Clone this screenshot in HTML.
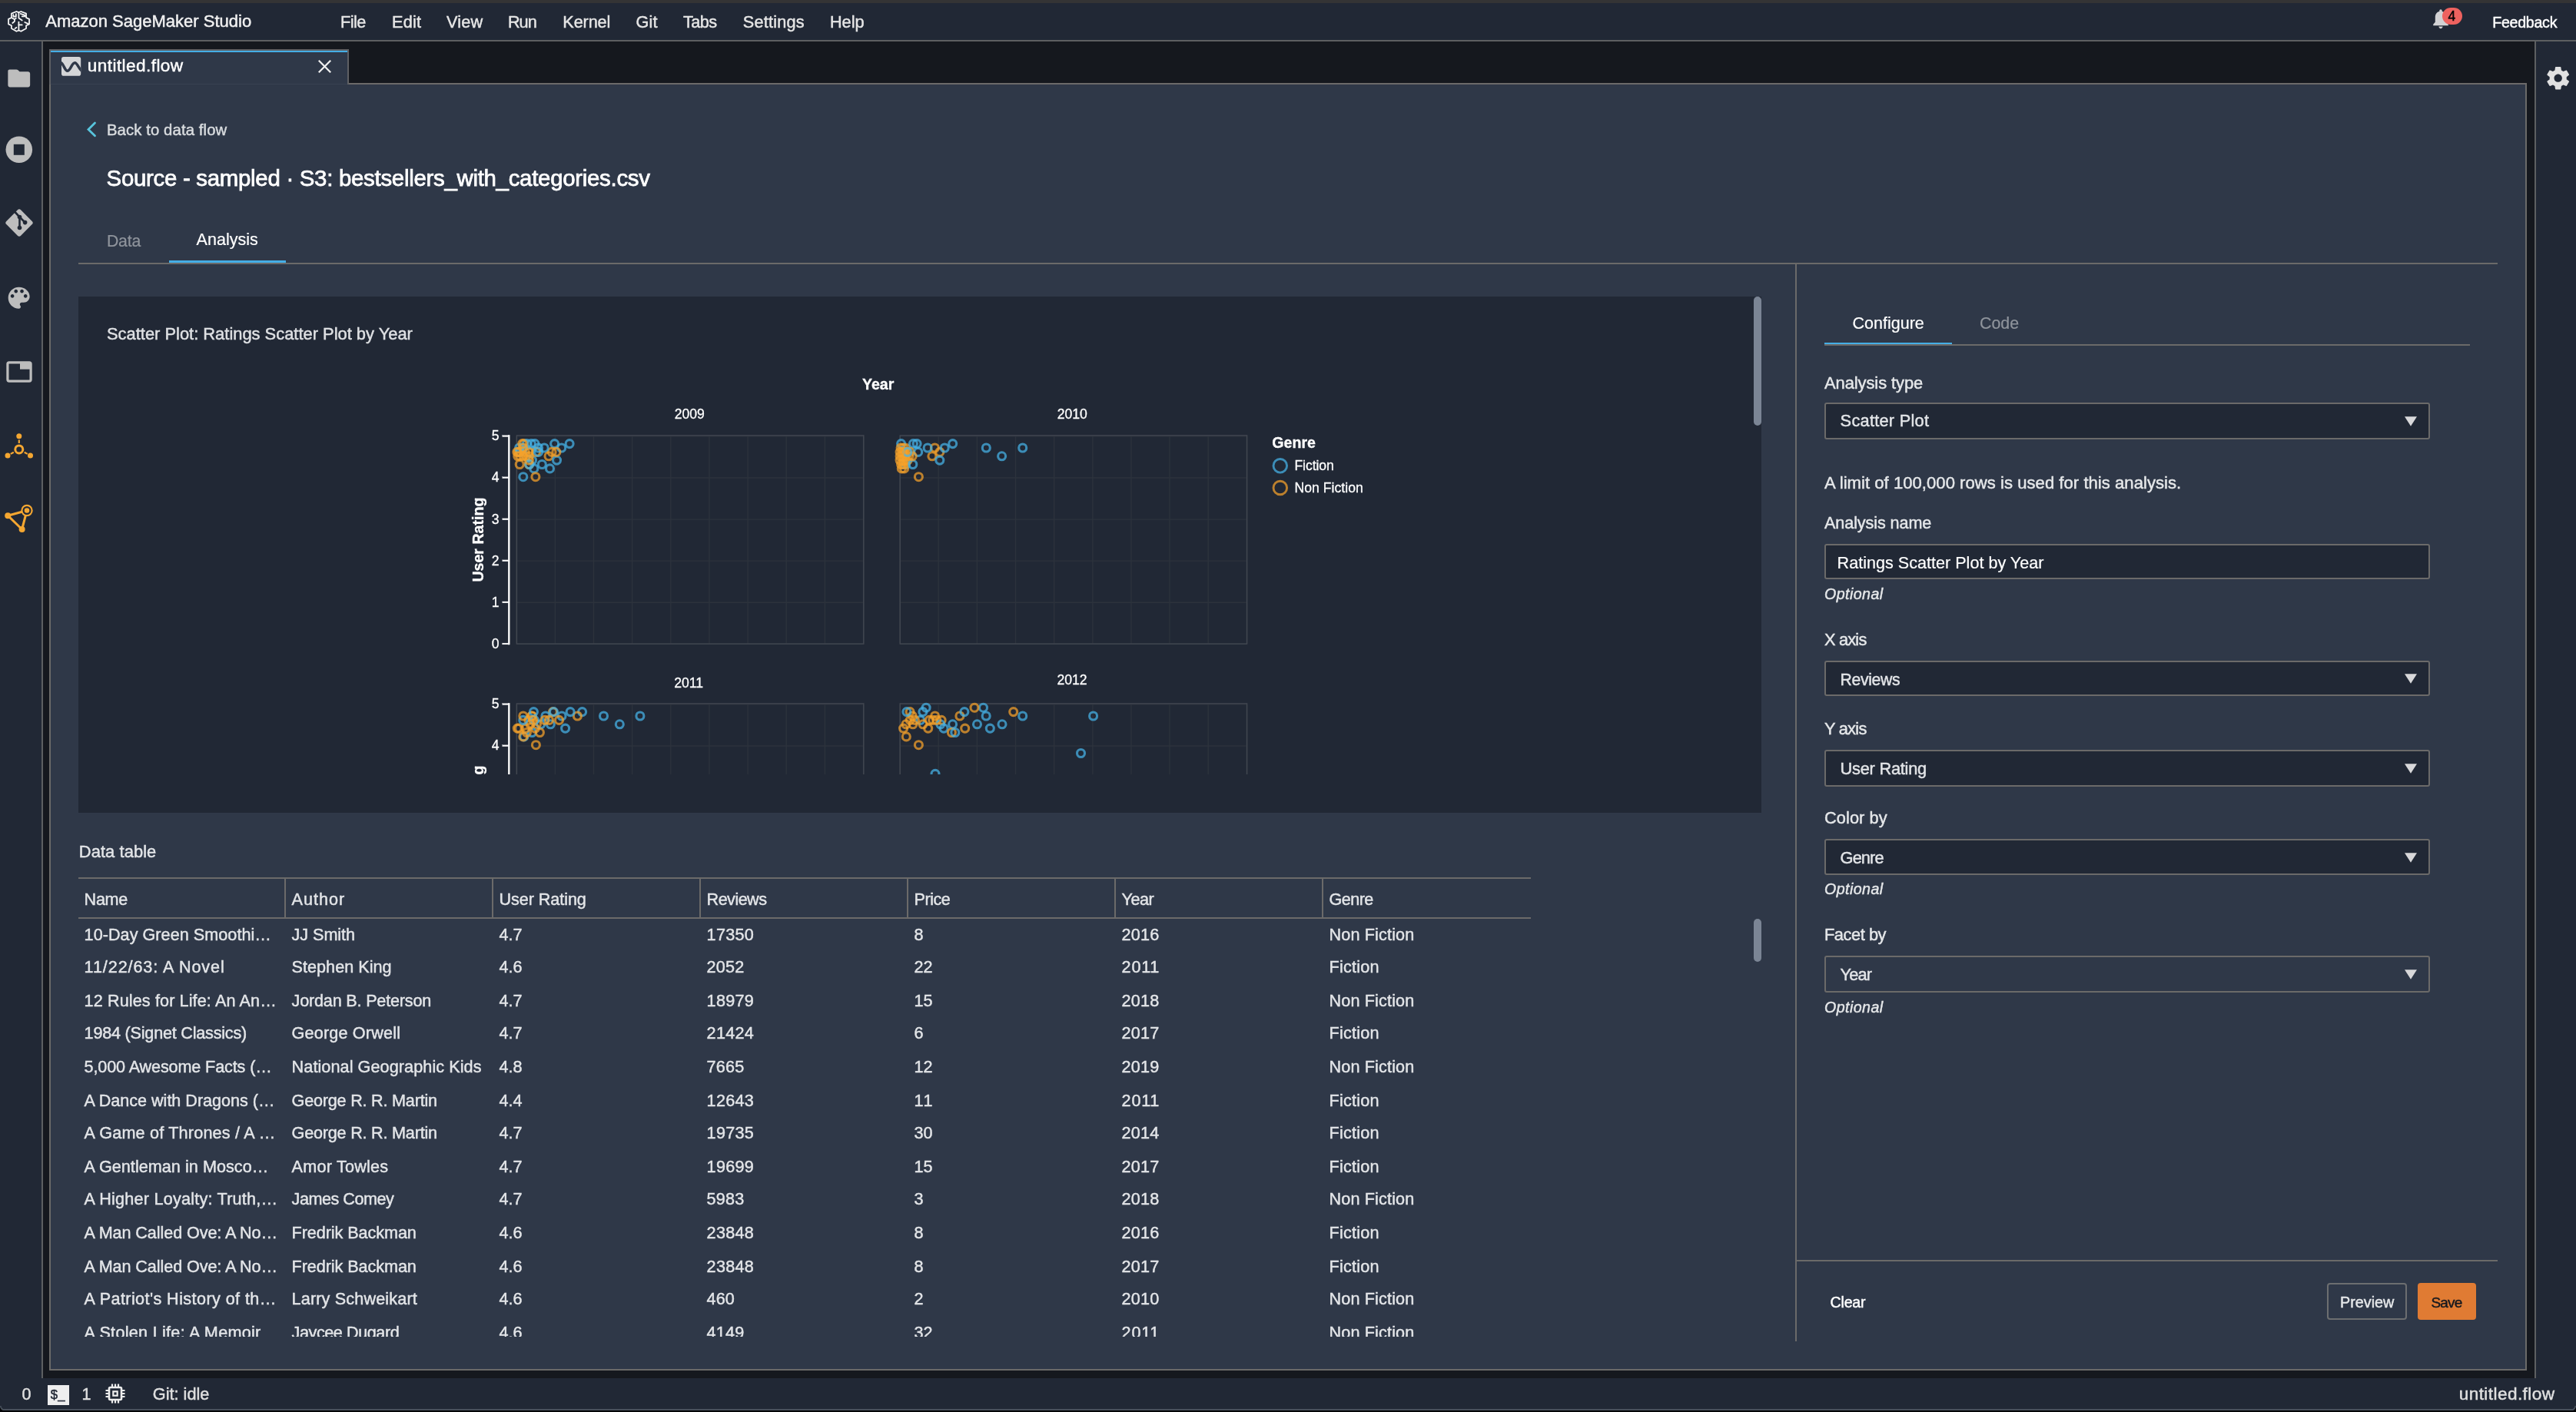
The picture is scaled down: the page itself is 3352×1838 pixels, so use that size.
<!DOCTYPE html>
<html><head><meta charset="utf-8"><title>Amazon SageMaker Studio</title>
<style>
html,body{margin:0;padding:0;}
body{width:3352px;height:1838px;overflow:hidden;background:#15181e;font-family:"Liberation Sans",sans-serif;position:relative;}
.t{position:absolute;white-space:nowrap;line-height:1;-webkit-text-stroke:0.45px;}
.r{position:absolute;}
svg{position:absolute;overflow:visible;}
#root{position:absolute;left:0;top:0;width:3352px;height:1838px;will-change:transform;}
</style></head><body><div id="root">
<div class="r" style="left:0.0px;top:0.0px;width:3352.0px;height:3.6px;background:#343435;"></div>
<div class="r" style="left:0.0px;top:3.6px;width:3352.0px;height:48.4px;background:#212835;"></div>
<div class="r" style="left:0.0px;top:52.0px;width:3352.0px;height:2.0px;background:#5d5f61;"></div>
<div class="r" style="left:0.0px;top:54.0px;width:54.0px;height:1740.0px;background:#212835;"></div>
<div class="r" style="left:54.0px;top:54.0px;width:2.0px;height:1740.0px;background:#5d5f61;"></div>
<div class="r" style="left:3300.0px;top:54.0px;width:52.0px;height:1740.0px;background:#212835;"></div>
<div class="r" style="left:3298.0px;top:54.0px;width:2.0px;height:1740.0px;background:#5d5f61;"></div>
<div class="r" style="left:0.0px;top:1794.0px;width:3352.0px;height:44.0px;background:#212835;"></div>
<div class="r" style="left:0.0px;top:1834.3px;width:3352.0px;height:1.7px;background:#48505b;"></div>
<div class="r" style="left:0.0px;top:1836.0px;width:3352.0px;height:2.0px;background:#050608;"></div>
<svg style="left:0;top:1830px" width="6" height="8" viewBox="0 0 6 8"><path d="M0 0 V8 H6 V6 H5.4 A5.4 5.4 0 0 1 0 0.600 Z" fill="#050608"/><path d="M0.800 0 A5 5 0 0 0 5.800 5.100" fill="none" stroke="#48505b" stroke-width="1.600"/></svg>
<svg style="left:3346px;top:1830px" width="6" height="8" viewBox="0 0 6 8"><path d="M6 0 V8 H0 V6 H0.600 A5.400 5.400 0 0 0 6 0.600 Z" fill="#050608"/><path d="M5.200 0 A5 5 0 0 1 0.200 5.100" fill="none" stroke="#48505b" stroke-width="1.600"/></svg>
<div class="t" style="left:59.3px;top:16.7px;font-size:22px;color:#f1f1f1;">Amazon SageMaker Studio</div>
<div class="t" style="left:442.9px;top:17.8px;font-size:21.7px;color:#e6e6e6;letter-spacing:-0.489px;">File</div>
<div class="t" style="left:510.0px;top:17.8px;font-size:21.7px;color:#e6e6e6;letter-spacing:0.235px;">Edit</div>
<div class="t" style="left:581.0px;top:17.8px;font-size:21.7px;color:#e6e6e6;letter-spacing:0.218px;">View</div>
<div class="t" style="left:660.9px;top:17.8px;font-size:21.7px;color:#e6e6e6;letter-spacing:-0.955px;">Run</div>
<div class="t" style="left:732.3px;top:17.8px;font-size:21.7px;color:#e6e6e6;letter-spacing:-0.126px;">Kernel</div>
<div class="t" style="left:827.6px;top:17.8px;font-size:21.7px;color:#e6e6e6;letter-spacing:0.136px;">Git</div>
<div class="t" style="left:889.0px;top:17.8px;font-size:21.7px;color:#e6e6e6;letter-spacing:-0.613px;">Tabs</div>
<div class="t" style="left:966.8px;top:17.8px;font-size:21.7px;color:#e6e6e6;letter-spacing:0.199px;">Settings</div>
<div class="t" style="left:1080.0px;top:17.8px;font-size:21.7px;color:#e6e6e6;letter-spacing:-0.044px;">Help</div>
<div class="t" style="left:3243.2px;top:20.3px;font-size:19.6px;color:#ffffff;letter-spacing:-0.254px;">Feedback</div>
<svg style="left:4px;top:8px" width="42" height="40" viewBox="0 0 42 40" fill="none" stroke="#f6f6f6" stroke-width="1.85" stroke-linejoin="round" stroke-linecap="round"><g transform="translate(20.5 19.9) scale(0.955) translate(-20.5 -19.9)">
<path d="M17.3 6.4 L20.4 7.6 L23.5 6.4 L30.5 9.1 V14.7 L34.7 16.7 V23.5 L30.5 25.5 V29.5 L23.5 33.4 L20.4 32 L17.3 33.4 L10.5 29.5 V25.5 L6.4 23.5 V16.7 L10.5 14.7 V9.1 Z"/>
<path d="M20.4 7.6 V15.3 L24.9 18.4"/><path d="M20.4 20.6 V32"/><path d="M20.4 24.6 H24.9"/>
<path d="M13 10.8 V13.2 H16.7 V9.8"/><path d="M10.5 14.7 L14.7 17 M16.7 15.4 L14.7 17 V19.8 L11.9 22.1"/>
<path d="M22.8 9.5 L29 11.4 V13 H24.9"/><path d="M28.6 21 L33 23"/><path d="M15.3 29.6 L17.3 28.1"/></g>
</svg>
<svg style="left:3164px;top:11px" width="24" height="28" viewBox="0 0 24 28"><path fill="#d2d2d4" d="M12 1.2c1 0 1.7.8 1.7 1.8v.7c3.4.8 5.5 3.8 5.5 7.5v6.6l2.6 2.9v1.6H2.2v-1.6l2.6-2.9v-6.6c0-3.7 2.1-6.7 5.5-7.5v-.7c0-1 .7-1.8 1.7-1.8zM9.4 23.6h5.2c0 1.5-1.2 2.6-2.6 2.6s-2.6-1.1-2.6-2.6z"/></svg>
<div class="r" style="left:3178.0px;top:9.9px;width:26.2px;height:22.4px;background:#ee625f;border-radius:11.2px;"></div>
<div class="t" style="left:3185.4px;top:13.0px;font-size:17.6px;color:#050505;">4</div>
<svg style="left:3311.1px;top:83.9px" width="35.4" height="35.4" viewBox="0 0 24 24"><path fill="#e1e1e1" d="M19.43 12.98c.04-.32.07-.64.07-.98s-.03-.66-.07-.98l2.11-1.65c.19-.15.24-.42.12-.64l-2-3.46c-.12-.22-.39-.3-.61-.22l-2.49 1c-.52-.4-1.08-.73-1.69-.98l-.38-2.65C14.46 2.18 14.25 2 14 2h-4c-.25 0-.46.18-.49.42l-.38 2.65c-.61.25-1.17.59-1.69.98l-2.49-1c-.23-.09-.49 0-.61.22l-2 3.46c-.13.22-.07.49.12.64l2.11 1.65c-.04.32-.07.65-.07.98s.03.66.07.98l-2.11 1.65c-.19.15-.24.42-.12.64l2 3.46c.12.22.39.3.61.22l2.49-1c.52.4 1.08.73 1.69.98l.38 2.65c.03.24.24.42.49.42h4c.25 0 .46-.18.49-.42l.38-2.65c.61-.25 1.17-.59 1.69-.98l2.49 1c.23.09.49 0 .61-.22l2-3.46c.12-.22.07-.49-.12-.64l-2.11-1.65zM12 15.5c-1.93 0-3.5-1.57-3.5-3.5s1.57-3.5 3.5-3.5 3.5 1.57 3.5 3.5-1.57 3.5-3.5 3.5z"/></svg>
<svg style="left:9px;top:89.6px" width="31.5" height="24" viewBox="0 0 32 25"><path fill="#bdbdbd" d="M3.2 0.5h9.2c.9 0 1.6.3 2.2.9l2.2 2.1h11.4c1.5 0 2.8 1.2 2.8 2.8v15.4c0 1.5-1.2 2.8-2.8 2.8H3.8C2.300 24.500 1 23.300 1 21.700V2.700C1 1.500 2 .5 3.2.5z"/></svg>
<svg style="left:7px;top:176.500px" width="36" height="36" viewBox="0 0 36 36"><circle cx="17.800" cy="17.800" r="17.300" fill="#bdbdbd"/><rect x="10.800" y="10.800" width="14" height="14" fill="#212835"/></svg>
<svg style="left:6px;top:271px" width="38" height="38" viewBox="0 0 38 38"><rect x="5.700" y="5.700" width="26.600" height="26.600" rx="3" fill="#bdbdbd" transform="rotate(45 19 19)"/>
<g stroke="#212835" stroke-width="2.600" fill="none" stroke-linecap="round"><path d="M14 5.500 L19.500 11.500 V24.500"/><path d="M19.500 11.500 L26 18"/></g>
<circle cx="19.500" cy="11.500" r="2.800" fill="#212835"/><circle cx="26.600" cy="18.600" r="2.800" fill="#212835"/><circle cx="19.500" cy="25.500" r="2.800" fill="#212835"/></svg>
<svg style="left:6.2px;top:369px" width="37.3" height="37.3" viewBox="0 0 24 24"><path fill="#bdbdbd" d="M12 3c-4.970 0-9 4.030-9 9s4.030 9 9 9c.830 0 1.500-.670 1.500-1.500 0-.390-.150-.740-.390-1.010-.230-.260-.380-.610-.380-.990 0-.830.670-1.500 1.500-1.500H16c2.760 0 5-2.240 5-5 0-4.420-4.030-8-9-8zm-5.500 9c-.830 0-1.500-.670-1.500-1.500S5.670 9 6.500 9 8 9.670 8 10.500 7.330 12 6.500 12zm3-4C8.670 8 8 7.330 8 6.500S8.670 5 9.500 5s1.500.670 1.500 1.500S10.330 8 9.500 8zm5 0c-.830 0-1.500-.670-1.500-1.500S13.670 5 14.500 5s1.500.670 1.500 1.500S15.330 8 14.500 8zm3 4c-.830 0-1.500-.670-1.500-1.500S16.670 9 17.500 9s1.500.670 1.500 1.500-.670 1.500-1.500 1.500z"/></svg>
<svg style="left:8px;top:470px" width="34" height="28" viewBox="0 0 34 28"><rect x="1.900" y="1.900" width="30.200" height="24.200" rx="2" fill="none" stroke="#bdbdbd" stroke-width="3.200"/><rect x="18" y="1.900" width="14" height="8.800" fill="#bdbdbd"/></svg>
<svg style="left:5px;top:563px" width="40" height="36" viewBox="0 0 40 36"><g stroke="#f5a731" stroke-width="2.200"><path d="M19.800 9.500 V14"/><path d="M8.800 27.900 L12.800 25.700"/><path d="M30.700 27.900 L26.700 25.700"/></g>
<circle cx="19.800" cy="21.900" r="5" fill="#212835" stroke="#f5a731" stroke-width="3"/><circle cx="19.800" cy="4.800" r="3.500" fill="#f5a731"/><circle cx="5" cy="30" r="3.500" fill="#f5a731"/><circle cx="34.500" cy="30" r="3.500" fill="#f5a731"/></svg>
<svg style="left:5px;top:655px" width="40" height="40" viewBox="0 0 40 40"><g stroke="#f5a731" stroke-width="3" stroke-linecap="round"><path d="M5.200 16.200 L28 10"/><path d="M5.200 16.200 L23.600 34"/><path d="M30 9.500 L23.600 34"/></g>
<circle cx="30" cy="9.500" r="6.600" fill="#212835" stroke="#f5a731" stroke-width="2.200"/><circle cx="30" cy="9.500" r="3.300" fill="#f5a731"/><circle cx="5.200" cy="16.200" r="4" fill="#f5a731"/><circle cx="23.600" cy="34" r="4" fill="#f5a731"/></svg>
<div class="t" style="left:28.5px;top:1804.5px;font-size:21.5px;color:#e0e0e0;">0</div>
<div class="r" style="left:62.0px;top:1803.0px;width:27.5px;height:26.0px;background:#eeeeee;"></div>
<div class="t" style="left:65.8px;top:1808.4px;font-size:16.8px;color:#1c2330;">$_</div>
<div class="t" style="left:106.5px;top:1804.5px;font-size:21.5px;color:#e0e0e0;">1</div>
<svg style="left:137px;top:1801px" width="26" height="26" viewBox="0 0 26 26" fill="none" stroke="#ededed"><rect x="5" y="5" width="16" height="16" rx="1.500" stroke-width="2.600"/><rect x="10.300" y="10.300" width="5.400" height="5.400" stroke-width="2.200"/><g stroke-width="2.200"><path d="M9 0.500V4M13 0.500V4M17 0.500V4M9 22V25.500M13 22V25.500M17 22V25.500M0.500 9H4M0.500 13H4M0.500 17H4M22 9H25.500M22 13H25.500M22 17H25.500"/></g></svg>
<div class="t" style="left:198.8px;top:1804.3px;font-size:21.7px;color:#e0e0e0;">Git: idle</div>
<div class="t" style="left:3199.7px;top:1803.7px;font-size:22.6px;color:#e0e0e0;letter-spacing:0.421px;">untitled.flow</div>
<div class="r" style="left:64.0px;top:108.0px;width:3224.0px;height:1676.0px;background:#2f3848;border:2px solid #6b6a69;box-sizing:border-box;"></div>
<div class="r" style="left:64.0px;top:64.0px;width:390.0px;height:46.0px;background:#2f3848;border:2px solid #5e6064;border-bottom:none;box-sizing:border-box;"></div>
<div class="r" style="left:66.0px;top:66.0px;width:386.0px;height:2.3px;background:#44aee6;"></div>
<div class="r" style="left:66.0px;top:109.0px;width:386.0px;height:1.3px;background:#394151;"></div>
<svg style="left:79.8px;top:74px" width="25.2" height="25" viewBox="0 0 25.2 25"><defs><clipPath id="fi"><rect x="0" y="0" width="25.2" height="24.8" rx="2.8"/></clipPath></defs><rect x="0" y="0" width="25.2" height="24.8" rx="2.8" fill="#d4d5d7"/><path clip-path="url(#fi)" d="M-1 7.6 C2.6 8.6 4.3 18.3 7.7 18.3 C11.6 18.3 13.4 7.8 17.4 7.8 C20.6 7.8 22.4 15.2 26.2 18.2" fill="none" stroke="#2f3848" stroke-width="3.5"/></svg>
<div class="t" style="left:113.8px;top:74.9px;font-size:22.6px;color:#ffffff;letter-spacing:0.421px;">untitled.flow</div>
<svg style="left:412.8px;top:76.700px" width="19" height="19" viewBox="0 0 19 19"><path d="M1.800 1.800 L17.200 17.200 M17.200 1.800 L1.800 17.200" stroke="#efefef" stroke-width="2.300"/></svg>
<svg style="left:112px;top:158px" width="14" height="21" viewBox="0 0 14 21"><path d="M11.500 2 L3 10.400 L11.500 18.800" fill="none" stroke="#58c4dc" stroke-width="2.800" stroke-linecap="round"/></svg>
<div class="t" style="left:138.9px;top:158.7px;font-size:20.3px;color:#d9dcdf;letter-spacing:0.119px;">Back to data flow</div>
<div class="t" style="left:138.6px;top:217.1px;font-size:29.4px;color:#ffffff;letter-spacing:-0.277px;-webkit-text-stroke:0.75px #fff;">Source - sampled · S3: bestsellers_with_categories.csv</div>
<div class="t" style="left:138.9px;top:304.0px;font-size:21.3px;color:#8f949c;letter-spacing:-0.198px;-webkit-text-stroke:0.2px;">Data</div>
<div class="t" style="left:255.6px;top:302.2px;font-size:21.5px;color:#ffffff;letter-spacing:0.02px;-webkit-text-stroke:0.2px;">Analysis</div>
<div class="r" style="left:102.0px;top:342.4px;width:3148.0px;height:2.0px;background:#6b6a69;"></div>
<div class="r" style="left:220.0px;top:339.2px;width:152.0px;height:3.2px;background:#45aee6;"></div>
<div class="r" style="left:2336.0px;top:343.0px;width:2.0px;height:1403.0px;background:#6b6a69;"></div>
<div class="r" style="left:102.0px;top:386.0px;width:2190.0px;height:671.5px;background:#212835;"></div>
<div class="r" style="left:2282.0px;top:386.0px;width:10.0px;height:168.0px;background:#7b8595;border-radius:5px;"></div>
<div class="t" style="left:139.0px;top:423.5px;font-size:21.9px;color:#dfe1e4;">Scatter Plot: Ratings Scatter Plot by Year</div>
<svg style="left:0;top:0" width="3352" height="1060" viewBox="0 0 3352 1060" font-family="Liberation Sans, sans-serif" stroke="#fff" stroke-width="0.3"><defs><clipPath id="cv"><rect x="102" y="386" width="2180" height="622"/></clipPath></defs><g clip-path="url(#cv)"><path d="M672.2 567.3V837.9M722.3 567.3V837.9M772.5 567.3V837.9M822.6 567.3V837.9M872.8 567.3V837.9M922.9 567.3V837.9M973.1 567.3V837.9M1023.2 567.3V837.9M1073.4 567.3V837.9M1123.5 567.3V837.9M672.4 838.3H1123.8M672.4 784.2H1123.8M672.4 730.1H1123.8M672.4 676.1H1123.8M672.4 622.0H1123.8M672.4 567.9H1123.8" stroke="#2c323c" stroke-width="1.4" fill="none"/><rect x="672.4" y="566.9" width="451.4" height="271.2" fill="none" stroke="#424751" stroke-width="1.4"/><circle cx="692.5" cy="599.1" r="5" fill="none" stroke="#46b4e8" stroke-width="3.1" stroke-opacity="0.73"/><circle cx="721.6" cy="577.6" r="5" fill="none" stroke="#46b4e8" stroke-width="3.1" stroke-opacity="0.73"/><circle cx="688.4" cy="604.5" r="5" fill="none" stroke="#f5a22b" stroke-width="3.1" stroke-opacity="0.73"/><circle cx="681.8" cy="577.6" r="5" fill="none" stroke="#f5a22b" stroke-width="3.1" stroke-opacity="0.73"/><circle cx="684.8" cy="593.8" r="5" fill="none" stroke="#f5a22b" stroke-width="3.1" stroke-opacity="0.73"/><circle cx="676.2" cy="588.4" r="5" fill="none" stroke="#46b4e8" stroke-width="3.1" stroke-opacity="0.73"/><circle cx="696.0" cy="577.6" r="5" fill="none" stroke="#46b4e8" stroke-width="3.1" stroke-opacity="0.73"/><circle cx="689.0" cy="588.4" r="5" fill="none" stroke="#46b4e8" stroke-width="3.1" stroke-opacity="0.73"/><circle cx="691.3" cy="577.6" r="5" fill="none" stroke="#46b4e8" stroke-width="3.1" stroke-opacity="0.73"/><circle cx="674.3" cy="588.4" r="5" fill="none" stroke="#f5a22b" stroke-width="3.1" stroke-opacity="0.73"/><circle cx="683.3" cy="588.4" r="5" fill="none" stroke="#f5a22b" stroke-width="3.1" stroke-opacity="0.73"/><circle cx="718.1" cy="588.4" r="5" fill="none" stroke="#f5a22b" stroke-width="3.1" stroke-opacity="0.73"/><circle cx="708.2" cy="583.0" r="5" fill="none" stroke="#46b4e8" stroke-width="3.1" stroke-opacity="0.73"/><circle cx="680.8" cy="620.7" r="5" fill="none" stroke="#46b4e8" stroke-width="3.1" stroke-opacity="0.73"/><circle cx="679.8" cy="583.0" r="5" fill="none" stroke="#46b4e8" stroke-width="3.1" stroke-opacity="0.73"/><circle cx="676.2" cy="588.4" r="5" fill="none" stroke="#f5a22b" stroke-width="3.1" stroke-opacity="0.73"/><circle cx="675.6" cy="583.0" r="5" fill="none" stroke="#46b4e8" stroke-width="3.1" stroke-opacity="0.73"/><circle cx="676.2" cy="604.5" r="5" fill="none" stroke="#f5a22b" stroke-width="3.1" stroke-opacity="0.73"/><circle cx="676.8" cy="593.8" r="5" fill="none" stroke="#f5a22b" stroke-width="3.1" stroke-opacity="0.73"/><circle cx="687.8" cy="588.4" r="5" fill="none" stroke="#f5a22b" stroke-width="3.1" stroke-opacity="0.73"/><circle cx="685.4" cy="577.6" r="5" fill="none" stroke="#46b4e8" stroke-width="3.1" stroke-opacity="0.73"/><circle cx="688.4" cy="593.8" r="5" fill="none" stroke="#f5a22b" stroke-width="3.1" stroke-opacity="0.73"/><circle cx="672.8" cy="588.4" r="5" fill="none" stroke="#f5a22b" stroke-width="3.1" stroke-opacity="0.73"/><circle cx="688.9" cy="604.5" r="5" fill="none" stroke="#46b4e8" stroke-width="3.1" stroke-opacity="0.73"/><circle cx="697.7" cy="588.4" r="5" fill="none" stroke="#f5a22b" stroke-width="3.1" stroke-opacity="0.73"/><circle cx="730.7" cy="583.0" r="5" fill="none" stroke="#46b4e8" stroke-width="3.1" stroke-opacity="0.73"/><circle cx="680.8" cy="593.8" r="5" fill="none" stroke="#f5a22b" stroke-width="3.1" stroke-opacity="0.73"/><circle cx="673.8" cy="593.8" r="5" fill="none" stroke="#f5a22b" stroke-width="3.1" stroke-opacity="0.73"/><circle cx="679.7" cy="577.6" r="5" fill="none" stroke="#f5a22b" stroke-width="3.1" stroke-opacity="0.73"/><circle cx="705.3" cy="604.5" r="5" fill="none" stroke="#46b4e8" stroke-width="3.1" stroke-opacity="0.73"/><circle cx="694.8" cy="609.9" r="5" fill="none" stroke="#46b4e8" stroke-width="3.1" stroke-opacity="0.73"/><circle cx="700.6" cy="588.4" r="5" fill="none" stroke="#46b4e8" stroke-width="3.1" stroke-opacity="0.73"/><circle cx="688.4" cy="599.1" r="5" fill="none" stroke="#f5a22b" stroke-width="3.1" stroke-opacity="0.73"/><circle cx="714.0" cy="593.8" r="5" fill="none" stroke="#f5a22b" stroke-width="3.1" stroke-opacity="0.73"/><circle cx="741.1" cy="577.6" r="5" fill="none" stroke="#46b4e8" stroke-width="3.1" stroke-opacity="0.73"/><circle cx="680.8" cy="583.0" r="5" fill="none" stroke="#f5a22b" stroke-width="3.1" stroke-opacity="0.73"/><circle cx="724.5" cy="599.1" r="5" fill="none" stroke="#46b4e8" stroke-width="3.1" stroke-opacity="0.73"/><circle cx="715.5" cy="609.9" r="5" fill="none" stroke="#46b4e8" stroke-width="3.1" stroke-opacity="0.73"/><circle cx="723.9" cy="588.4" r="5" fill="none" stroke="#f5a22b" stroke-width="3.1" stroke-opacity="0.73"/><circle cx="700.6" cy="583.0" r="5" fill="none" stroke="#46b4e8" stroke-width="3.1" stroke-opacity="0.73"/><circle cx="696.9" cy="620.7" r="5" fill="none" stroke="#f5a22b" stroke-width="3.1" stroke-opacity="0.73"/><path d="M1171.0 567.3V837.9M1221.2 567.3V837.9M1271.3 567.3V837.9M1321.5 567.3V837.9M1371.6 567.3V837.9M1421.8 567.3V837.9M1471.9 567.3V837.9M1522.0 567.3V837.9M1572.2 567.3V837.9M1622.3 567.3V837.9M1171.2 838.3H1622.6M1171.2 784.2H1622.6M1171.2 730.1H1622.6M1171.2 676.1H1622.6M1171.2 622.0H1622.6M1171.2 567.9H1622.6" stroke="#2c323c" stroke-width="1.4" fill="none"/><rect x="1171.2" y="566.9" width="451.4" height="271.2" fill="none" stroke="#424751" stroke-width="1.4"/><circle cx="1178.1" cy="583.0" r="5" fill="none" stroke="#f5a22b" stroke-width="3.1" stroke-opacity="0.73"/><circle cx="1172.6" cy="577.6" r="5" fill="none" stroke="#46b4e8" stroke-width="3.1" stroke-opacity="0.73"/><circle cx="1178.6" cy="604.5" r="5" fill="none" stroke="#46b4e8" stroke-width="3.1" stroke-opacity="0.73"/><circle cx="1178.1" cy="599.1" r="5" fill="none" stroke="#f5a22b" stroke-width="3.1" stroke-opacity="0.73"/><circle cx="1175.1" cy="599.1" r="5" fill="none" stroke="#f5a22b" stroke-width="3.1" stroke-opacity="0.73"/><circle cx="1172.1" cy="583.0" r="5" fill="none" stroke="#f5a22b" stroke-width="3.1" stroke-opacity="0.73"/><circle cx="1180.1" cy="588.4" r="5" fill="none" stroke="#f5a22b" stroke-width="3.1" stroke-opacity="0.73"/><circle cx="1181.1" cy="599.1" r="5" fill="none" stroke="#f5a22b" stroke-width="3.1" stroke-opacity="0.73"/><circle cx="1303.6" cy="593.8" r="5" fill="none" stroke="#46b4e8" stroke-width="3.1" stroke-opacity="0.73"/><circle cx="1222.8" cy="588.4" r="5" fill="none" stroke="#f5a22b" stroke-width="3.1" stroke-opacity="0.73"/><circle cx="1188.4" cy="577.6" r="5" fill="none" stroke="#46b4e8" stroke-width="3.1" stroke-opacity="0.73"/><circle cx="1176.6" cy="609.9" r="5" fill="none" stroke="#f5a22b" stroke-width="3.1" stroke-opacity="0.73"/><circle cx="1175.6" cy="604.5" r="5" fill="none" stroke="#f5a22b" stroke-width="3.1" stroke-opacity="0.73"/><circle cx="1175.1" cy="583.0" r="5" fill="none" stroke="#f5a22b" stroke-width="3.1" stroke-opacity="0.73"/><circle cx="1177.1" cy="588.4" r="5" fill="none" stroke="#f5a22b" stroke-width="3.1" stroke-opacity="0.73"/><circle cx="1177.1" cy="593.8" r="5" fill="none" stroke="#f5a22b" stroke-width="3.1" stroke-opacity="0.73"/><circle cx="1212.9" cy="593.8" r="5" fill="none" stroke="#f5a22b" stroke-width="3.1" stroke-opacity="0.73"/><circle cx="1216.4" cy="583.0" r="5" fill="none" stroke="#f5a22b" stroke-width="3.1" stroke-opacity="0.73"/><circle cx="1183.1" cy="593.8" r="5" fill="none" stroke="#f5a22b" stroke-width="3.1" stroke-opacity="0.73"/><circle cx="1171.1" cy="599.1" r="5" fill="none" stroke="#f5a22b" stroke-width="3.1" stroke-opacity="0.73"/><circle cx="1193.1" cy="577.6" r="5" fill="none" stroke="#46b4e8" stroke-width="3.1" stroke-opacity="0.73"/><circle cx="1184.2" cy="588.4" r="5" fill="none" stroke="#f5a22b" stroke-width="3.1" stroke-opacity="0.73"/><circle cx="1229.2" cy="583.0" r="5" fill="none" stroke="#46b4e8" stroke-width="3.1" stroke-opacity="0.73"/><circle cx="1330.7" cy="583.0" r="5" fill="none" stroke="#46b4e8" stroke-width="3.1" stroke-opacity="0.73"/><circle cx="1222.8" cy="599.1" r="5" fill="none" stroke="#46b4e8" stroke-width="3.1" stroke-opacity="0.73"/><circle cx="1187.8" cy="604.5" r="5" fill="none" stroke="#46b4e8" stroke-width="3.1" stroke-opacity="0.73"/><circle cx="1174.1" cy="593.8" r="5" fill="none" stroke="#f5a22b" stroke-width="3.1" stroke-opacity="0.73"/><circle cx="1173.3" cy="609.9" r="5" fill="none" stroke="#f5a22b" stroke-width="3.1" stroke-opacity="0.73"/><circle cx="1195.4" cy="620.7" r="5" fill="none" stroke="#f5a22b" stroke-width="3.1" stroke-opacity="0.73"/><circle cx="1194.7" cy="588.4" r="5" fill="none" stroke="#46b4e8" stroke-width="3.1" stroke-opacity="0.73"/><circle cx="1174.1" cy="588.4" r="5" fill="none" stroke="#f5a22b" stroke-width="3.1" stroke-opacity="0.73"/><circle cx="1171.1" cy="593.8" r="5" fill="none" stroke="#f5a22b" stroke-width="3.1" stroke-opacity="0.73"/><circle cx="1187.2" cy="593.8" r="5" fill="none" stroke="#f5a22b" stroke-width="3.1" stroke-opacity="0.73"/><circle cx="1180.9" cy="588.4" r="5" fill="none" stroke="#46b4e8" stroke-width="3.1" stroke-opacity="0.73"/><circle cx="1239.7" cy="577.6" r="5" fill="none" stroke="#46b4e8" stroke-width="3.1" stroke-opacity="0.73"/><circle cx="1207.1" cy="583.0" r="5" fill="none" stroke="#46b4e8" stroke-width="3.1" stroke-opacity="0.73"/><circle cx="1172.6" cy="604.5" r="5" fill="none" stroke="#f5a22b" stroke-width="3.1" stroke-opacity="0.73"/><circle cx="1283.3" cy="583.0" r="5" fill="none" stroke="#46b4e8" stroke-width="3.1" stroke-opacity="0.73"/><circle cx="1171.1" cy="588.4" r="5" fill="none" stroke="#f5a22b" stroke-width="3.1" stroke-opacity="0.73"/><path d="M672.2 916.3V1186.9M722.3 916.3V1186.9M772.5 916.3V1186.9M822.6 916.3V1186.9M872.8 916.3V1186.9M922.9 916.3V1186.9M973.1 916.3V1186.9M1023.2 916.3V1186.9M1073.4 916.3V1186.9M1123.5 916.3V1186.9M672.4 1187.3H1123.8M672.4 1133.2H1123.8M672.4 1079.1H1123.8M672.4 1025.1H1123.8M672.4 971.0H1123.8M672.4 916.9H1123.8" stroke="#2c323c" stroke-width="1.4" fill="none"/><rect x="672.4" y="915.9" width="451.4" height="271.2" fill="none" stroke="#424751" stroke-width="1.4"/><circle cx="698.4" cy="942.8" r="5" fill="none" stroke="#f5a22b" stroke-width="3.1" stroke-opacity="0.73"/><circle cx="806.3" cy="942.8" r="5" fill="none" stroke="#46b4e8" stroke-width="3.1" stroke-opacity="0.73"/><circle cx="697.4" cy="969.7" r="5" fill="none" stroke="#f5a22b" stroke-width="3.1" stroke-opacity="0.73"/><circle cx="675.3" cy="948.1" r="5" fill="none" stroke="#f5a22b" stroke-width="3.1" stroke-opacity="0.73"/><circle cx="681.8" cy="958.9" r="5" fill="none" stroke="#46b4e8" stroke-width="3.1" stroke-opacity="0.73"/><circle cx="703.7" cy="942.8" r="5" fill="none" stroke="#46b4e8" stroke-width="3.1" stroke-opacity="0.73"/><circle cx="757.6" cy="926.6" r="5" fill="none" stroke="#46b4e8" stroke-width="3.1" stroke-opacity="0.73"/><circle cx="719.5" cy="926.6" r="5" fill="none" stroke="#f5a22b" stroke-width="3.1" stroke-opacity="0.73"/><circle cx="691.9" cy="932.0" r="5" fill="none" stroke="#f5a22b" stroke-width="3.1" stroke-opacity="0.73"/><circle cx="692.4" cy="932.0" r="5" fill="none" stroke="#f5a22b" stroke-width="3.1" stroke-opacity="0.73"/><circle cx="735.6" cy="948.1" r="5" fill="none" stroke="#46b4e8" stroke-width="3.1" stroke-opacity="0.73"/><circle cx="694.4" cy="926.6" r="5" fill="none" stroke="#46b4e8" stroke-width="3.1" stroke-opacity="0.73"/><circle cx="832.9" cy="932.0" r="5" fill="none" stroke="#46b4e8" stroke-width="3.1" stroke-opacity="0.73"/><circle cx="716.3" cy="942.8" r="5" fill="none" stroke="#46b4e8" stroke-width="3.1" stroke-opacity="0.73"/><circle cx="751.4" cy="932.0" r="5" fill="none" stroke="#f5a22b" stroke-width="3.1" stroke-opacity="0.73"/><circle cx="692.4" cy="953.5" r="5" fill="none" stroke="#46b4e8" stroke-width="3.1" stroke-opacity="0.73"/><circle cx="687.9" cy="937.4" r="5" fill="none" stroke="#f5a22b" stroke-width="3.1" stroke-opacity="0.73"/><circle cx="683.8" cy="948.1" r="5" fill="none" stroke="#f5a22b" stroke-width="3.1" stroke-opacity="0.73"/><circle cx="709.9" cy="932.0" r="5" fill="none" stroke="#46b4e8" stroke-width="3.1" stroke-opacity="0.73"/><circle cx="720.5" cy="926.6" r="5" fill="none" stroke="#46b4e8" stroke-width="3.1" stroke-opacity="0.73"/><circle cx="696.4" cy="948.1" r="5" fill="none" stroke="#f5a22b" stroke-width="3.1" stroke-opacity="0.73"/><circle cx="685.4" cy="953.5" r="5" fill="none" stroke="#f5a22b" stroke-width="3.1" stroke-opacity="0.73"/><circle cx="673.3" cy="948.1" r="5" fill="none" stroke="#f5a22b" stroke-width="3.1" stroke-opacity="0.73"/><circle cx="695.4" cy="937.4" r="5" fill="none" stroke="#46b4e8" stroke-width="3.1" stroke-opacity="0.73"/><circle cx="731.0" cy="932.0" r="5" fill="none" stroke="#46b4e8" stroke-width="3.1" stroke-opacity="0.73"/><circle cx="689.9" cy="942.8" r="5" fill="none" stroke="#f5a22b" stroke-width="3.1" stroke-opacity="0.73"/><circle cx="702.4" cy="953.5" r="5" fill="none" stroke="#f5a22b" stroke-width="3.1" stroke-opacity="0.73"/><circle cx="742.1" cy="926.6" r="5" fill="none" stroke="#46b4e8" stroke-width="3.1" stroke-opacity="0.73"/><circle cx="680.8" cy="937.4" r="5" fill="none" stroke="#46b4e8" stroke-width="3.1" stroke-opacity="0.73"/><circle cx="680.8" cy="958.9" r="5" fill="none" stroke="#f5a22b" stroke-width="3.1" stroke-opacity="0.73"/><circle cx="727.5" cy="937.4" r="5" fill="none" stroke="#f5a22b" stroke-width="3.1" stroke-opacity="0.73"/><circle cx="693.4" cy="937.4" r="5" fill="none" stroke="#f5a22b" stroke-width="3.1" stroke-opacity="0.73"/><circle cx="680.8" cy="932.0" r="5" fill="none" stroke="#f5a22b" stroke-width="3.1" stroke-opacity="0.73"/><circle cx="708.9" cy="937.4" r="5" fill="none" stroke="#f5a22b" stroke-width="3.1" stroke-opacity="0.73"/><circle cx="714.5" cy="937.4" r="5" fill="none" stroke="#f5a22b" stroke-width="3.1" stroke-opacity="0.73"/><circle cx="785.5" cy="932.0" r="5" fill="none" stroke="#46b4e8" stroke-width="3.1" stroke-opacity="0.73"/><path d="M1171.0 916.3V1186.9M1221.2 916.3V1186.9M1271.3 916.3V1186.9M1321.5 916.3V1186.9M1371.6 916.3V1186.9M1421.8 916.3V1186.9M1471.9 916.3V1186.9M1522.0 916.3V1186.9M1572.2 916.3V1186.9M1622.3 916.3V1186.9M1171.2 1187.3H1622.6M1171.2 1133.2H1622.6M1171.2 1079.1H1622.6M1171.2 1025.1H1622.6M1171.2 971.0H1622.6M1171.2 916.9H1622.6" stroke="#2c323c" stroke-width="1.4" fill="none"/><rect x="1171.2" y="915.9" width="451.4" height="271.2" fill="none" stroke="#424751" stroke-width="1.4"/><circle cx="1197.7" cy="937.4" r="5" fill="none" stroke="#46b4e8" stroke-width="3.1" stroke-opacity="0.73"/><circle cx="1187.2" cy="932.0" r="5" fill="none" stroke="#f5a22b" stroke-width="3.1" stroke-opacity="0.73"/><circle cx="1330.7" cy="932.0" r="5" fill="none" stroke="#46b4e8" stroke-width="3.1" stroke-opacity="0.73"/><circle cx="1184.1" cy="926.6" r="5" fill="none" stroke="#f5a22b" stroke-width="3.1" stroke-opacity="0.73"/><circle cx="1279.5" cy="921.2" r="5" fill="none" stroke="#46b4e8" stroke-width="3.1" stroke-opacity="0.73"/><circle cx="1184.2" cy="937.4" r="5" fill="none" stroke="#f5a22b" stroke-width="3.1" stroke-opacity="0.73"/><circle cx="1201.0" cy="942.8" r="5" fill="none" stroke="#f5a22b" stroke-width="3.1" stroke-opacity="0.73"/><circle cx="1217.0" cy="1007.4" r="5" fill="none" stroke="#46b4e8" stroke-width="3.1" stroke-opacity="0.73"/><circle cx="1178.9" cy="942.8" r="5" fill="none" stroke="#f5a22b" stroke-width="3.1" stroke-opacity="0.73"/><circle cx="1271.5" cy="942.8" r="5" fill="none" stroke="#46b4e8" stroke-width="3.1" stroke-opacity="0.73"/><circle cx="1318.7" cy="926.6" r="5" fill="none" stroke="#f5a22b" stroke-width="3.1" stroke-opacity="0.73"/><circle cx="1205.1" cy="921.2" r="5" fill="none" stroke="#46b4e8" stroke-width="3.1" stroke-opacity="0.73"/><circle cx="1406.5" cy="980.5" r="5" fill="none" stroke="#46b4e8" stroke-width="3.1" stroke-opacity="0.73"/><circle cx="1207.7" cy="948.1" r="5" fill="none" stroke="#f5a22b" stroke-width="3.1" stroke-opacity="0.73"/><circle cx="1200.9" cy="926.6" r="5" fill="none" stroke="#46b4e8" stroke-width="3.1" stroke-opacity="0.73"/><circle cx="1268.0" cy="921.2" r="5" fill="none" stroke="#f5a22b" stroke-width="3.1" stroke-opacity="0.73"/><circle cx="1255.7" cy="948.1" r="5" fill="none" stroke="#f5a22b" stroke-width="3.1" stroke-opacity="0.73"/><circle cx="1179.9" cy="926.6" r="5" fill="none" stroke="#46b4e8" stroke-width="3.1" stroke-opacity="0.73"/><circle cx="1225.1" cy="937.4" r="5" fill="none" stroke="#f5a22b" stroke-width="3.1" stroke-opacity="0.73"/><circle cx="1422.6" cy="932.0" r="5" fill="none" stroke="#46b4e8" stroke-width="3.1" stroke-opacity="0.73"/><circle cx="1228.1" cy="948.1" r="5" fill="none" stroke="#46b4e8" stroke-width="3.1" stroke-opacity="0.73"/><circle cx="1216.6" cy="932.0" r="5" fill="none" stroke="#f5a22b" stroke-width="3.1" stroke-opacity="0.73"/><circle cx="1288.3" cy="948.1" r="5" fill="none" stroke="#46b4e8" stroke-width="3.1" stroke-opacity="0.73"/><circle cx="1213.8" cy="937.4" r="5" fill="none" stroke="#f5a22b" stroke-width="3.1" stroke-opacity="0.73"/><circle cx="1248.9" cy="932.0" r="5" fill="none" stroke="#f5a22b" stroke-width="3.1" stroke-opacity="0.73"/><circle cx="1239.6" cy="942.8" r="5" fill="none" stroke="#46b4e8" stroke-width="3.1" stroke-opacity="0.73"/><circle cx="1238.4" cy="953.5" r="5" fill="none" stroke="#f5a22b" stroke-width="3.1" stroke-opacity="0.73"/><circle cx="1242.8" cy="953.5" r="5" fill="none" stroke="#46b4e8" stroke-width="3.1" stroke-opacity="0.73"/><circle cx="1209.3" cy="937.4" r="5" fill="none" stroke="#f5a22b" stroke-width="3.1" stroke-opacity="0.73"/><circle cx="1254.9" cy="926.6" r="5" fill="none" stroke="#46b4e8" stroke-width="3.1" stroke-opacity="0.73"/><circle cx="1175.6" cy="948.1" r="5" fill="none" stroke="#f5a22b" stroke-width="3.1" stroke-opacity="0.73"/><circle cx="1223.8" cy="942.8" r="5" fill="none" stroke="#46b4e8" stroke-width="3.1" stroke-opacity="0.73"/><circle cx="1179.3" cy="958.9" r="5" fill="none" stroke="#f5a22b" stroke-width="3.1" stroke-opacity="0.73"/><circle cx="1218.8" cy="937.4" r="5" fill="none" stroke="#f5a22b" stroke-width="3.1" stroke-opacity="0.73"/><circle cx="1304.0" cy="942.8" r="5" fill="none" stroke="#46b4e8" stroke-width="3.1" stroke-opacity="0.73"/><circle cx="1283.2" cy="932.0" r="5" fill="none" stroke="#46b4e8" stroke-width="3.1" stroke-opacity="0.73"/><circle cx="1187.9" cy="942.8" r="5" fill="none" stroke="#f5a22b" stroke-width="3.1" stroke-opacity="0.73"/><circle cx="1195.4" cy="969.7" r="5" fill="none" stroke="#f5a22b" stroke-width="3.1" stroke-opacity="0.73"/><circle cx="1190.4" cy="937.4" r="5" fill="none" stroke="#f5a22b" stroke-width="3.1" stroke-opacity="0.73"/><rect x="661.2" y="566.3" width="2.05" height="272.8" fill="#fff"/><rect x="653.8" y="837.1" width="8" height="1.8" fill="#fff"/><text x="649.6" y="843.7" font-size="17.6" fill="#fff" text-anchor="end">0</text><rect x="653.8" y="783.0" width="8" height="1.8" fill="#fff"/><text x="649.6" y="789.6" font-size="17.6" fill="#fff" text-anchor="end">1</text><rect x="653.8" y="728.9" width="8" height="1.8" fill="#fff"/><text x="649.6" y="735.5" font-size="17.6" fill="#fff" text-anchor="end">2</text><rect x="653.8" y="674.9" width="8" height="1.8" fill="#fff"/><text x="649.6" y="681.5" font-size="17.6" fill="#fff" text-anchor="end">3</text><rect x="653.8" y="620.8" width="8" height="1.8" fill="#fff"/><text x="649.6" y="627.4" font-size="17.6" fill="#fff" text-anchor="end">4</text><rect x="653.8" y="566.7" width="8" height="1.8" fill="#fff"/><text x="649.6" y="573.3" font-size="17.6" fill="#fff" text-anchor="end">5</text><text transform="translate(629.2 702.6) rotate(-90)" font-size="19.6" font-weight="bold" fill="#fff" text-anchor="middle">User Rating</text><rect x="661.2" y="915.3" width="2.05" height="272.8" fill="#fff"/><rect x="653.8" y="1186.1" width="8" height="1.8" fill="#fff"/><text x="649.6" y="1192.7" font-size="17.6" fill="#fff" text-anchor="end">0</text><rect x="653.8" y="1132.0" width="8" height="1.8" fill="#fff"/><text x="649.6" y="1138.6" font-size="17.6" fill="#fff" text-anchor="end">1</text><rect x="653.8" y="1077.9" width="8" height="1.8" fill="#fff"/><text x="649.6" y="1084.5" font-size="17.6" fill="#fff" text-anchor="end">2</text><rect x="653.8" y="1023.9" width="8" height="1.8" fill="#fff"/><text x="649.6" y="1030.5" font-size="17.6" fill="#fff" text-anchor="end">3</text><rect x="653.8" y="969.8" width="8" height="1.8" fill="#fff"/><text x="649.6" y="976.4" font-size="17.6" fill="#fff" text-anchor="end">4</text><rect x="653.8" y="915.7" width="8" height="1.8" fill="#fff"/><text x="649.6" y="922.3" font-size="17.6" fill="#fff" text-anchor="end">5</text><text transform="translate(629.2 1051.6) rotate(-90)" font-size="19.6" font-weight="bold" fill="#fff" text-anchor="middle">User Rating</text><text x="1142.7" y="507" font-size="19.6" font-weight="bold" fill="#fff" text-anchor="middle">Year</text><text x="897.3" y="545.2" font-size="17.6" fill="#fff" text-anchor="middle">2009</text><text x="1395.2" y="545.2" font-size="17.6" fill="#fff" text-anchor="middle">2010</text><text x="896.2" y="894.6" font-size="17.6" fill="#fff" text-anchor="middle">2011</text><text x="1395.1" y="891.4" font-size="17.6" fill="#fff" text-anchor="middle">2012</text><text x="1655.3" y="582.9" font-size="19.6" font-weight="bold" fill="#fff">Genre</text><circle cx="1665.8" cy="606.3" r="8.8" fill="none" stroke="#46b4e8" stroke-width="2.9" stroke-opacity="0.73"/><circle cx="1665.8" cy="635" r="8.8" fill="none" stroke="#f5a22b" stroke-width="2.9" stroke-opacity="0.73"/><text x="1684.4" y="612.2" font-size="17.6" fill="#fff" textLength="51.5">Fiction</text><text x="1684.4" y="640.6" font-size="17.6" fill="#fff" textLength="89.5">Non Fiction</text></g></svg>
<div class="t" style="left:102.8px;top:1098.0px;font-size:21.9px;color:#e3e5e8;letter-spacing:0.074px;">Data table</div>
<div class="r" style="left:102.0px;top:1142.0px;width:1890.0px;height:2.0px;background:#6b6a69;"></div>
<div class="r" style="left:102.0px;top:1194.0px;width:1890.0px;height:2.0px;background:#6b6a69;"></div>
<div class="r" style="left:370.2px;top:1144.0px;width:2.0px;height:50.0px;background:#6b6a69;"></div>
<div class="r" style="left:640.2px;top:1144.0px;width:2.0px;height:50.0px;background:#6b6a69;"></div>
<div class="r" style="left:910.2px;top:1144.0px;width:2.0px;height:50.0px;background:#6b6a69;"></div>
<div class="r" style="left:1180.2px;top:1144.0px;width:2.0px;height:50.0px;background:#6b6a69;"></div>
<div class="r" style="left:1450.2px;top:1144.0px;width:2.0px;height:50.0px;background:#6b6a69;"></div>
<div class="r" style="left:1720.2px;top:1144.0px;width:2.0px;height:50.0px;background:#6b6a69;"></div>
<div class="t" style="left:109.6px;top:1160.1px;font-size:21.6px;color:#e3e5e8;letter-spacing:-0.307px;">Name</div>
<div class="t" style="left:379.6px;top:1160.1px;font-size:21.6px;color:#e3e5e8;letter-spacing:0.972px;">Author</div>
<div class="t" style="left:649.6px;top:1160.1px;font-size:21.6px;color:#e3e5e8;letter-spacing:-0.075px;">User Rating</div>
<div class="t" style="left:919.6px;top:1160.1px;font-size:21.6px;color:#e3e5e8;letter-spacing:-0.537px;">Reviews</div>
<div class="t" style="left:1189.6px;top:1160.1px;font-size:21.6px;color:#e3e5e8;letter-spacing:-0.504px;">Price</div>
<div class="t" style="left:1459.6px;top:1160.1px;font-size:21.6px;color:#e3e5e8;letter-spacing:-0.548px;">Year</div>
<div class="t" style="left:1729.6px;top:1160.1px;font-size:21.6px;color:#e3e5e8;letter-spacing:-0.559px;">Genre</div>
<div class="r" style="left:102px;top:1196px;width:1900px;height:544px;overflow:hidden;">
<div class="t" style="left:7.6px;top:9.9px;font-size:21.6px;color:#e3e5e8;letter-spacing:0.044px;">10-Day Green Smoothi…</div>
<div class="t" style="left:277.6px;top:9.9px;font-size:21.6px;color:#e3e5e8;letter-spacing:-0.045px;">JJ Smith</div>
<div class="t" style="left:547.6px;top:9.9px;font-size:21.6px;color:#e3e5e8;">4.7</div>
<div class="t" style="left:817.6px;top:9.9px;font-size:21.6px;color:#e3e5e8;letter-spacing:0.308px;">17350</div>
<div class="t" style="left:1087.6px;top:9.9px;font-size:21.6px;color:#e3e5e8;">8</div>
<div class="t" style="left:1357.6px;top:9.9px;font-size:21.6px;color:#e3e5e8;letter-spacing:0.249px;">2016</div>
<div class="t" style="left:1627.6px;top:9.9px;font-size:21.6px;color:#e3e5e8;letter-spacing:0.145px;">Non Fiction</div>
<div class="t" style="left:7.6px;top:51.9px;font-size:21.6px;color:#e3e5e8;letter-spacing:0.904px;">11/22/63: A Novel</div>
<div class="t" style="left:277.6px;top:51.9px;font-size:21.6px;color:#e3e5e8;letter-spacing:0.026px;">Stephen King</div>
<div class="t" style="left:547.6px;top:51.9px;font-size:21.6px;color:#e3e5e8;">4.6</div>
<div class="t" style="left:817.6px;top:51.9px;font-size:21.6px;color:#e3e5e8;letter-spacing:0.249px;">2052</div>
<div class="t" style="left:1087.6px;top:51.9px;font-size:21.6px;color:#e3e5e8;letter-spacing:-0.227px;">22</div>
<div class="t" style="left:1357.6px;top:51.9px;font-size:21.6px;color:#e3e5e8;letter-spacing:0.783px;">2011</div>
<div class="t" style="left:1627.6px;top:51.9px;font-size:21.6px;color:#e3e5e8;letter-spacing:0.23px;">Fiction</div>
<div class="t" style="left:7.6px;top:95.9px;font-size:21.6px;color:#e3e5e8;letter-spacing:0.119px;">12 Rules for Life: An An…</div>
<div class="t" style="left:277.6px;top:95.9px;font-size:21.6px;color:#e3e5e8;letter-spacing:-0.189px;">Jordan B. Peterson</div>
<div class="t" style="left:547.6px;top:95.9px;font-size:21.6px;color:#e3e5e8;">4.7</div>
<div class="t" style="left:817.6px;top:95.9px;font-size:21.6px;color:#e3e5e8;letter-spacing:0.308px;">18979</div>
<div class="t" style="left:1087.6px;top:95.9px;font-size:21.6px;color:#e3e5e8;letter-spacing:-0.227px;">15</div>
<div class="t" style="left:1357.6px;top:95.9px;font-size:21.6px;color:#e3e5e8;letter-spacing:0.249px;">2018</div>
<div class="t" style="left:1627.6px;top:95.9px;font-size:21.6px;color:#e3e5e8;letter-spacing:0.145px;">Non Fiction</div>
<div class="t" style="left:7.6px;top:137.9px;font-size:21.6px;color:#e3e5e8;letter-spacing:-0.21px;">1984 (Signet Classics)</div>
<div class="t" style="left:277.6px;top:137.9px;font-size:21.6px;color:#e3e5e8;letter-spacing:0.179px;">George Orwell</div>
<div class="t" style="left:547.6px;top:137.9px;font-size:21.6px;color:#e3e5e8;">4.7</div>
<div class="t" style="left:817.6px;top:137.9px;font-size:21.6px;color:#e3e5e8;letter-spacing:0.308px;">21424</div>
<div class="t" style="left:1087.6px;top:137.9px;font-size:21.6px;color:#e3e5e8;">6</div>
<div class="t" style="left:1357.6px;top:137.9px;font-size:21.6px;color:#e3e5e8;letter-spacing:0.249px;">2017</div>
<div class="t" style="left:1627.6px;top:137.9px;font-size:21.6px;color:#e3e5e8;letter-spacing:0.23px;">Fiction</div>
<div class="t" style="left:7.6px;top:181.9px;font-size:21.6px;color:#e3e5e8;letter-spacing:-0.125px;">5,000 Awesome Facts (…</div>
<div class="t" style="left:277.6px;top:181.9px;font-size:21.6px;color:#e3e5e8;letter-spacing:0.089px;">National Geographic Kids</div>
<div class="t" style="left:547.6px;top:181.9px;font-size:21.6px;color:#e3e5e8;">4.8</div>
<div class="t" style="left:817.6px;top:181.9px;font-size:21.6px;color:#e3e5e8;letter-spacing:0.249px;">7665</div>
<div class="t" style="left:1087.6px;top:181.9px;font-size:21.6px;color:#e3e5e8;letter-spacing:-0.227px;">12</div>
<div class="t" style="left:1357.6px;top:181.9px;font-size:21.6px;color:#e3e5e8;letter-spacing:0.249px;">2019</div>
<div class="t" style="left:1627.6px;top:181.9px;font-size:21.6px;color:#e3e5e8;letter-spacing:0.145px;">Non Fiction</div>
<div class="t" style="left:7.6px;top:225.9px;font-size:21.6px;color:#e3e5e8;letter-spacing:-0.023px;">A Dance with Dragons (…</div>
<div class="t" style="left:277.6px;top:225.9px;font-size:21.6px;color:#e3e5e8;letter-spacing:-0.209px;">George R. R. Martin</div>
<div class="t" style="left:547.6px;top:225.9px;font-size:21.6px;color:#e3e5e8;">4.4</div>
<div class="t" style="left:817.6px;top:225.9px;font-size:21.6px;color:#e3e5e8;letter-spacing:0.308px;">12643</div>
<div class="t" style="left:1087.6px;top:225.9px;font-size:21.6px;color:#e3e5e8;letter-spacing:1.376px;">11</div>
<div class="t" style="left:1357.6px;top:225.9px;font-size:21.6px;color:#e3e5e8;letter-spacing:0.783px;">2011</div>
<div class="t" style="left:1627.6px;top:225.9px;font-size:21.6px;color:#e3e5e8;letter-spacing:0.23px;">Fiction</div>
<div class="t" style="left:7.6px;top:267.9px;font-size:21.6px;color:#e3e5e8;letter-spacing:0.198px;">A Game of Thrones / A …</div>
<div class="t" style="left:277.6px;top:267.9px;font-size:21.6px;color:#e3e5e8;letter-spacing:-0.209px;">George R. R. Martin</div>
<div class="t" style="left:547.6px;top:267.9px;font-size:21.6px;color:#e3e5e8;">4.7</div>
<div class="t" style="left:817.6px;top:267.9px;font-size:21.6px;color:#e3e5e8;letter-spacing:0.308px;">19735</div>
<div class="t" style="left:1087.6px;top:267.9px;font-size:21.6px;color:#e3e5e8;letter-spacing:-0.227px;">30</div>
<div class="t" style="left:1357.6px;top:267.9px;font-size:21.6px;color:#e3e5e8;letter-spacing:0.249px;">2014</div>
<div class="t" style="left:1627.6px;top:267.9px;font-size:21.6px;color:#e3e5e8;letter-spacing:0.23px;">Fiction</div>
<div class="t" style="left:7.6px;top:311.9px;font-size:21.6px;color:#e3e5e8;letter-spacing:0.044px;">A Gentleman in Mosco…</div>
<div class="t" style="left:277.6px;top:311.9px;font-size:21.6px;color:#e3e5e8;letter-spacing:0.236px;">Amor Towles</div>
<div class="t" style="left:547.6px;top:311.9px;font-size:21.6px;color:#e3e5e8;">4.7</div>
<div class="t" style="left:817.6px;top:311.9px;font-size:21.6px;color:#e3e5e8;letter-spacing:0.308px;">19699</div>
<div class="t" style="left:1087.6px;top:311.9px;font-size:21.6px;color:#e3e5e8;letter-spacing:-0.227px;">15</div>
<div class="t" style="left:1357.6px;top:311.9px;font-size:21.6px;color:#e3e5e8;letter-spacing:0.249px;">2017</div>
<div class="t" style="left:1627.6px;top:311.9px;font-size:21.6px;color:#e3e5e8;letter-spacing:0.23px;">Fiction</div>
<div class="t" style="left:7.6px;top:353.9px;font-size:21.6px;color:#e3e5e8;letter-spacing:0.228px;">A Higher Loyalty: Truth,…</div>
<div class="t" style="left:277.6px;top:353.9px;font-size:21.6px;color:#e3e5e8;letter-spacing:-0.474px;">James Comey</div>
<div class="t" style="left:547.6px;top:353.9px;font-size:21.6px;color:#e3e5e8;">4.7</div>
<div class="t" style="left:817.6px;top:353.9px;font-size:21.6px;color:#e3e5e8;letter-spacing:0.249px;">5983</div>
<div class="t" style="left:1087.6px;top:353.9px;font-size:21.6px;color:#e3e5e8;">3</div>
<div class="t" style="left:1357.6px;top:353.9px;font-size:21.6px;color:#e3e5e8;letter-spacing:0.249px;">2018</div>
<div class="t" style="left:1627.6px;top:353.9px;font-size:21.6px;color:#e3e5e8;letter-spacing:0.145px;">Non Fiction</div>
<div class="t" style="left:7.6px;top:397.9px;font-size:21.6px;color:#e3e5e8;letter-spacing:-0.079px;">A Man Called Ove: A No…</div>
<div class="t" style="left:277.6px;top:397.9px;font-size:21.6px;color:#e3e5e8;letter-spacing:-0.068px;">Fredrik Backman</div>
<div class="t" style="left:547.6px;top:397.9px;font-size:21.6px;color:#e3e5e8;">4.6</div>
<div class="t" style="left:817.6px;top:397.9px;font-size:21.6px;color:#e3e5e8;letter-spacing:0.308px;">23848</div>
<div class="t" style="left:1087.6px;top:397.9px;font-size:21.6px;color:#e3e5e8;">8</div>
<div class="t" style="left:1357.6px;top:397.9px;font-size:21.6px;color:#e3e5e8;letter-spacing:0.249px;">2016</div>
<div class="t" style="left:1627.6px;top:397.9px;font-size:21.6px;color:#e3e5e8;letter-spacing:0.23px;">Fiction</div>
<div class="t" style="left:7.6px;top:441.7px;font-size:21.6px;color:#e3e5e8;letter-spacing:-0.079px;">A Man Called Ove: A No…</div>
<div class="t" style="left:277.6px;top:441.7px;font-size:21.6px;color:#e3e5e8;letter-spacing:-0.068px;">Fredrik Backman</div>
<div class="t" style="left:547.6px;top:441.7px;font-size:21.6px;color:#e3e5e8;">4.6</div>
<div class="t" style="left:817.6px;top:441.7px;font-size:21.6px;color:#e3e5e8;letter-spacing:0.308px;">23848</div>
<div class="t" style="left:1087.6px;top:441.7px;font-size:21.6px;color:#e3e5e8;">8</div>
<div class="t" style="left:1357.6px;top:441.7px;font-size:21.6px;color:#e3e5e8;letter-spacing:0.249px;">2017</div>
<div class="t" style="left:1627.6px;top:441.7px;font-size:21.6px;color:#e3e5e8;letter-spacing:0.23px;">Fiction</div>
<div class="t" style="left:7.6px;top:483.7px;font-size:21.6px;color:#e3e5e8;letter-spacing:0.416px;">A Patriot's History of th…</div>
<div class="t" style="left:277.6px;top:483.7px;font-size:21.6px;color:#e3e5e8;letter-spacing:0.156px;">Larry Schweikart</div>
<div class="t" style="left:547.6px;top:483.7px;font-size:21.6px;color:#e3e5e8;">4.6</div>
<div class="t" style="left:817.6px;top:483.7px;font-size:21.6px;color:#e3e5e8;letter-spacing:0.13px;">460</div>
<div class="t" style="left:1087.6px;top:483.7px;font-size:21.6px;color:#e3e5e8;">2</div>
<div class="t" style="left:1357.6px;top:483.7px;font-size:21.6px;color:#e3e5e8;letter-spacing:0.249px;">2010</div>
<div class="t" style="left:1627.6px;top:483.7px;font-size:21.6px;color:#e3e5e8;letter-spacing:0.145px;">Non Fiction</div>
<div class="t" style="left:7.6px;top:527.7px;font-size:21.6px;color:#e3e5e8;letter-spacing:0.294px;">A Stolen Life: A Memoir</div>
<div class="t" style="left:277.6px;top:527.7px;font-size:21.6px;color:#e3e5e8;letter-spacing:-0.432px;">Jaycee Dugard</div>
<div class="t" style="left:547.6px;top:527.7px;font-size:21.6px;color:#e3e5e8;">4.6</div>
<div class="t" style="left:817.6px;top:527.7px;font-size:21.6px;color:#e3e5e8;letter-spacing:0.249px;">4149</div>
<div class="t" style="left:1087.6px;top:527.7px;font-size:21.6px;color:#e3e5e8;letter-spacing:-0.227px;">32</div>
<div class="t" style="left:1357.6px;top:527.7px;font-size:21.6px;color:#e3e5e8;letter-spacing:0.783px;">2011</div>
<div class="t" style="left:1627.6px;top:527.7px;font-size:21.6px;color:#e3e5e8;letter-spacing:0.145px;">Non Fiction</div>
</div>
<div class="r" style="left:2282.0px;top:1196.0px;width:10.0px;height:56.0px;background:#7b8595;border-radius:5px;"></div>
<div class="t" style="left:2410.6px;top:410.6px;font-size:21.5px;color:#ffffff;-webkit-text-stroke:0.2px;">Configure</div>
<div class="t" style="left:2576.1px;top:410.7px;font-size:21.4px;color:#8f949c;letter-spacing:-0.054px;-webkit-text-stroke:0.2px;">Code</div>
<div class="r" style="left:2374.0px;top:448.2px;width:840.0px;height:2.0px;background:#6b6a69;"></div>
<div class="r" style="left:2374.0px;top:445.7px;width:166.0px;height:2.6px;background:#45aee6;"></div>
<div class="t" style="left:2374.0px;top:488.1px;font-size:21.9px;color:#e6e8ea;letter-spacing:-0.061px;">Analysis type</div>
<div class="r" style="left:2374.0px;top:524.0px;width:788.0px;height:47.5px;background:#212835;border:2px solid #6b6a69;border-radius:3px;box-sizing:border-box;"></div>
<div class="t" style="left:2394.6px;top:537.4px;font-size:21.8px;color:#e3e5e8;letter-spacing:0.247px;">Scatter Plot</div>
<svg style="left:3128.800px;top:542.1px" width="16" height="13" viewBox="0 0 16 13"><path d="M0 0.300 H16 L8 12.700 Z" fill="#d8d8da"/></svg>
<div class="t" style="left:2374.0px;top:618.0px;font-size:22.1px;color:#e6e8ea;letter-spacing:0.025px;">A limit of 100,000 rows is used for this analysis.</div>
<div class="t" style="left:2374.0px;top:670.0px;font-size:21.6px;color:#e6e8ea;letter-spacing:-0.089px;">Analysis name</div>
<div class="r" style="left:2374.0px;top:708.3px;width:788.0px;height:45.5px;background:#212835;border:2px solid #6b6a69;border-radius:3px;box-sizing:border-box;"></div>
<div class="t" style="left:2390.6px;top:722.2px;font-size:21.6px;color:#ffffff;-webkit-text-stroke:0.2px;">Ratings Scatter Plot by Year</div>
<div class="t" style="left:2374.0px;top:764.0px;font-size:19.6px;color:#e6e8ea;font-style:italic;letter-spacing:0.457px;">Optional</div>
<div class="t" style="left:2374.0px;top:821.5px;font-size:21.8px;color:#e6e8ea;letter-spacing:-0.813px;">X axis</div>
<div class="r" style="left:2374.0px;top:860.0px;width:788.0px;height:45.6px;background:#212835;border:2px solid #6b6a69;border-radius:3px;box-sizing:border-box;"></div>
<div class="t" style="left:2394.6px;top:874.1px;font-size:21.2px;color:#e3e5e8;letter-spacing:-0.352px;">Reviews</div>
<svg style="left:3128.800px;top:877.2px" width="16" height="13" viewBox="0 0 16 13"><path d="M0 0.300 H16 L8 12.700 Z" fill="#d8d8da"/></svg>
<div class="t" style="left:2374.0px;top:938.1px;font-size:21.8px;color:#e6e8ea;letter-spacing:-0.734px;">Y axis</div>
<div class="r" style="left:2374.0px;top:976.0px;width:788.0px;height:47.7px;background:#212835;border:2px solid #6b6a69;border-radius:3px;box-sizing:border-box;"></div>
<div class="t" style="left:2394.6px;top:990.0px;font-size:21.8px;color:#e3e5e8;letter-spacing:-0.25px;">User Rating</div>
<svg style="left:3128.800px;top:994.2px" width="16" height="13" viewBox="0 0 16 13"><path d="M0 0.300 H16 L8 12.700 Z" fill="#d8d8da"/></svg>
<div class="t" style="left:2374.0px;top:1054.3px;font-size:21.8px;color:#e6e8ea;letter-spacing:0.06px;">Color by</div>
<div class="r" style="left:2374.0px;top:1092.0px;width:788.0px;height:47.4px;background:#212835;border:2px solid #6b6a69;border-radius:3px;box-sizing:border-box;"></div>
<div class="t" style="left:2394.6px;top:1106.3px;font-size:21.8px;color:#e3e5e8;letter-spacing:-0.898px;">Genre</div>
<svg style="left:3128.800px;top:1110.1px" width="16" height="13" viewBox="0 0 16 13"><path d="M0 0.300 H16 L8 12.700 Z" fill="#d8d8da"/></svg>
<div class="t" style="left:2374.0px;top:1148.2px;font-size:19.6px;color:#e6e8ea;font-style:italic;letter-spacing:0.457px;">Optional</div>
<div class="t" style="left:2374.0px;top:1205.5px;font-size:21.8px;color:#e6e8ea;letter-spacing:-0.443px;">Facet by</div>
<div class="r" style="left:2374.0px;top:1244.0px;width:788.0px;height:47.6px;background:#2f3848;border:2px solid #6b6a69;border-radius:3px;box-sizing:border-box;"></div>
<div class="t" style="left:2394.6px;top:1258.2px;font-size:21.8px;color:#e3e5e8;letter-spacing:-0.85px;">Year</div>
<svg style="left:3128.800px;top:1262.2px" width="16" height="13" viewBox="0 0 16 13"><path d="M0 0.300 H16 L8 12.700 Z" fill="#d8d8da"/></svg>
<div class="t" style="left:2374.0px;top:1302.4px;font-size:19.6px;color:#e6e8ea;font-style:italic;letter-spacing:0.457px;">Optional</div>
<div class="r" style="left:2338.0px;top:1639.6px;width:912.0px;height:2.0px;background:#6b6a69;"></div>
<div class="t" style="left:2381.6px;top:1685.8px;font-size:19.6px;color:#ffffff;letter-spacing:-0.21px;">Clear</div>
<div class="r" style="left:3028.0px;top:1670.0px;width:104.0px;height:48.0px;background:transparent;border:2px solid #6c6e70;border-radius:4px;box-sizing:border-box;"></div>
<div class="t" style="left:3045.0px;top:1685.7px;font-size:19.8px;color:#e6e8ea;">Preview</div>
<div class="r" style="left:3146.0px;top:1670.0px;width:76.0px;height:48.0px;background:#e07b33;border-radius:4px;"></div>
<div class="t" style="left:3163.5px;top:1686.4px;font-size:19px;color:#16191f;letter-spacing:-0.836px;">Save</div>
</div></body></html>
